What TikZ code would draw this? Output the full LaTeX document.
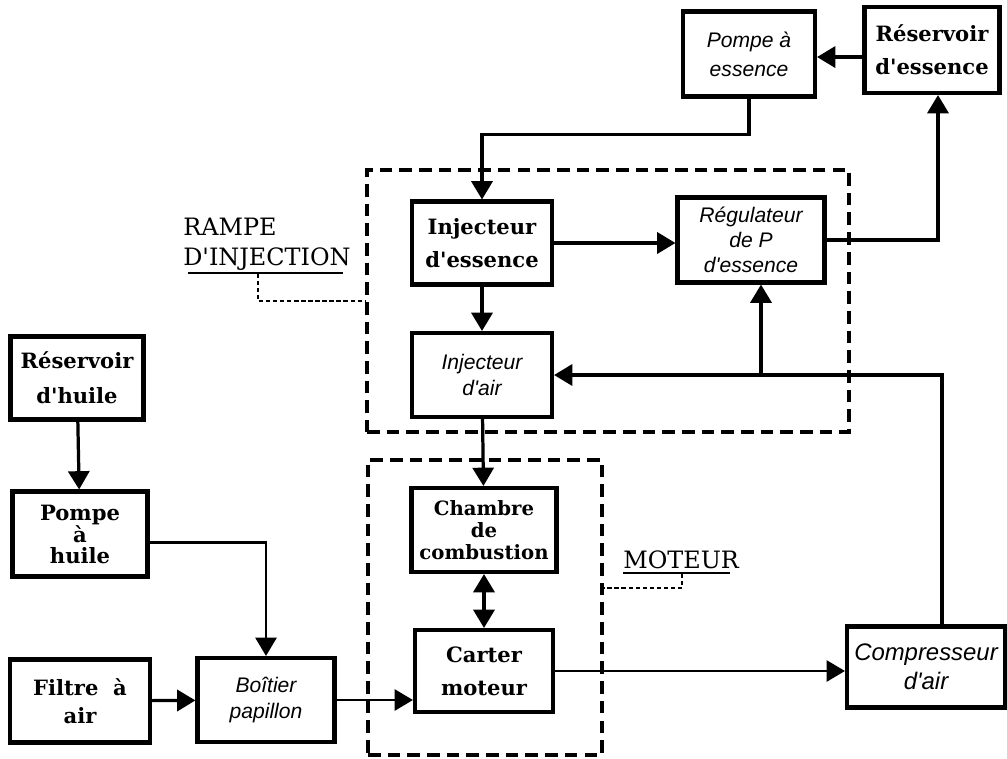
\documentclass[tikz,border=0pt]{standalone}
\usepackage{fontspec}
\usetikzlibrary{arrows.meta,positioning,calc}
\newfontfamily\serifbox{DejaVu Serif}
\newfontfamily\sansbox{Liberation Sans}

\begin{document}
\begin{tikzpicture}[x=0.025cm,y=-0.025cm,
  blockb/.style={draw,line width=2.9pt,minimum width=3.5cm,minimum height=2.1cm,align=center,inner sep=2pt,font=\serifbox\bfseries\fontsize{15}{23}\selectfont},
  blocki/.style={draw,line width=2.9pt,minimum width=3.5cm,minimum height=2.1cm,align=center,inner sep=2pt,font=\sansbox\itshape\fontsize{15}{18}\selectfont},
  flow/.style={-{Triangle[length=13pt,width=15pt]},line width=2.3pt},
  thinflow/.style={flow,line width=1.6pt},
  zone/.style={draw,line width=2.3pt,dash pattern=on 9pt off 5pt,inner sep=0pt},
  lead/.style={line width=1pt,dash pattern=on 3pt off 2pt},
  lbl/.style={font=\serifbox\fontsize{17}{21}\selectfont,inner sep=0pt,align=left}]
      \useasboundingbox (0,0) rectangle (1007,758);
      \node[zone,minimum width=12.05cm,minimum height=6.55cm] (rampe) at (608,301) {};
      \node[zone,minimum width=5.85cm,minimum height=7.375cm] (moteur) at (485,607.5) {};
      \node[blocki,minimum width=3.3cm,minimum height=2.125cm,font=\sansbox\itshape\fontsize{15}{20.5}\selectfont] (pompess) at (749,54) {Pompe à\\essence};
      \node[blockb,minimum width=3.375cm,minimum height=2.15cm,font=\serifbox\bfseries\fontsize{15}{23.5}\selectfont] (resess) at (932,50) {Réservoir\\d'essence};
      \node[blockb,minimum height=2.075cm] (injess) at (482,243) {Injecteur\\d'essence};
      \node[blocki,minimum width=3.675cm,minimum height=2.125cm] (regul) at (751,240) {Régulateur\\de P\\d'essence};
      \node[blocki] (injair) at (482,375) {Injecteur\\d'air};
      \node[blockb,minimum width=3.625cm,font=\serifbox\bfseries\fontsize{14}{15.5}\selectfont] (chambre) at (484,530) {Chambre\\de\\combustion};
      \node[blockb,minimum width=3.45cm,minimum height=2.05cm,font=\serifbox\bfseries\fontsize{15}{23.5}\selectfont] (carter) at (484,671) {Carter\\moteur};
      \node[blocki,minimum width=3.95cm,minimum height=2.025cm,font=\sansbox\itshape\fontsize{17}{20.5}\selectfont] (compr) at (926,667) {Compresseur\\d'air};
      \node[blockb,minimum width=3.325cm,minimum height=2.075cm,font=\serifbox\bfseries\fontsize{15}{25}\selectfont] (reshuile) at (77,378) {Réservoir\\d'huile};
      \node[blockb,minimum width=3.375cm,minimum height=2.125cm,font=\serifbox\bfseries\fontsize{15}{14.5}\selectfont] (pompeh) at (80,534) {Pompe\\à\\huile};
      \node[blockb,minimum height=2.075cm,font=\serifbox\bfseries\fontsize{15}{20}\selectfont] (filtre) at (80,701) {Filtre~ à\\air};
      \node[blocki,minimum width=3.425cm] (boitier) at (266,700) {Boîtier\\papillon};
      \node[lbl,anchor=north west] (rampelbl) at (183,218) {RAMPE\\D'INJECTION};
      \node[lbl,anchor=north west] (motlbl) at (623,550) {MOTEUR};
      \draw[line width=1pt] (188,273) -- (343,273);
      \draw[lead] (258,274) |- (rampe.west);
      \draw[line width=1pt] (623,573) -- (730,573);
      \draw[lead] (682,574) |- (moteur.east |- 0,588);
      \draw[flow] ([yshift=-5pt]resess.west) -- ([yshift=-5pt]resess.west -| pompess.east);
      \draw[flow] (pompess.south) -- ++(0,36) -| (injess.north);
      \draw[flow] (injess.east) -- (injess.east -| regul.west);
      \draw[flow] (regul.east) -| ($(resess.south)+(6,0)$);
      \draw[flow] (injess) -- (injair);
      \coordinate (airbus) at ($(compr.north)+(16,0)$);
      \coordinate (tap) at ($(regul.south |- injair.east)+(10,0)$);
      \draw[flow] (airbus) |- (injair.east);
      \draw[flow] (tap) -- (tap |- regul.south);
      \draw[flow] (injair) -- (chambre);
      \draw[{Triangle[length=13pt,width=15pt]}-{Triangle[length=13pt,width=15pt]},line width=2.3pt] (chambre) -- (carter);
      \draw[thinflow] (carter.east) -- (carter.east -| compr.west);
      \draw[flow] (reshuile) -- (pompeh);
      \draw[thinflow] ([yshift=-6pt]pompeh.east) -| (boitier.north);
      \draw[flow] (filtre) -- (boitier);
      \draw[thinflow] (boitier.east) -- (boitier.east -| carter.west);
    \end{tikzpicture}
\end{document}
